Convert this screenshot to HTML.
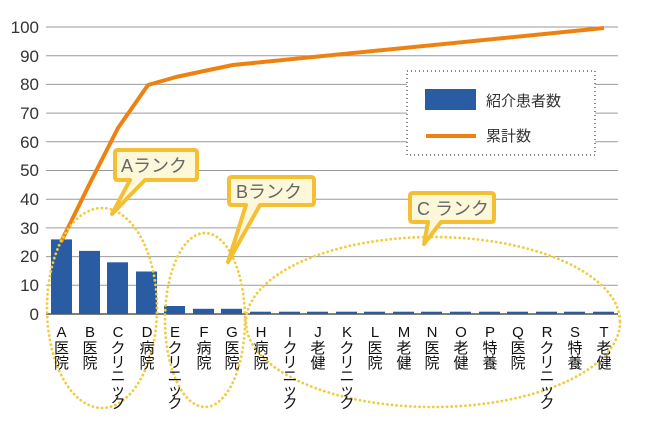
<!DOCTYPE html>
<html><head><meta charset="utf-8"><style>
html,body{margin:0;padding:0;background:#fff;}
svg{display:block;}
text{font-family:"Liberation Sans","Noto Sans CJK JP",sans-serif;}
</style></head><body>
<svg width="652" height="434" viewBox="0 0 652 434" xmlns="http://www.w3.org/2000/svg">
<g stroke="#9a9a9a" stroke-width="1">
<line x1="46" x2="618" y1="27" y2="27"/>
<line x1="46" x2="618" y1="55.7" y2="55.7"/>
<line x1="46" x2="618" y1="84.4" y2="84.4"/>
<line x1="46" x2="618" y1="113.1" y2="113.1"/>
<line x1="46" x2="618" y1="141.8" y2="141.8"/>
<line x1="46" x2="618" y1="170.5" y2="170.5"/>
<line x1="46" x2="618" y1="199.2" y2="199.2"/>
<line x1="46" x2="618" y1="227.9" y2="227.9"/>
<line x1="46" x2="618" y1="256.6" y2="256.6"/>
<line x1="46" x2="618" y1="285.3" y2="285.3"/>
</g>
<line x1="46" x2="618" y1="314" y2="314" stroke="#333" stroke-width="1.2"/>
<g font-size="17" fill="#333" text-anchor="end">
<text x="39" y="33">100</text><text x="39" y="62">90</text><text x="39" y="90">80</text>
<text x="39" y="119">70</text><text x="39" y="148">60</text><text x="39" y="176">50</text>
<text x="39" y="205">40</text><text x="39" y="234">30</text><text x="39" y="262">20</text>
<text x="39" y="291">10</text><text x="39" y="320">0</text>
</g>
<g fill="#2a5ca3">
<rect x="51" y="239.4" width="21" height="74.6"/>
<rect x="79" y="250.9" width="21" height="63.1"/>
<rect x="107" y="262.3" width="21" height="51.7"/>
<rect x="136" y="271.5" width="21" height="42.5"/>
<rect x="164" y="306" width="21" height="8"/>
<rect x="193" y="308.8" width="21" height="5.2"/>
<rect x="221" y="308.8" width="21" height="5.2"/>
<rect x="250" y="311.7" width="21" height="2.3"/>
<rect x="279" y="311.7" width="21" height="2.3"/>
<rect x="307" y="311.7" width="21" height="2.3"/>
<rect x="336" y="311.7" width="21" height="2.3"/>
<rect x="364" y="311.7" width="21" height="2.3"/>
<rect x="393" y="311.7" width="21" height="2.3"/>
<rect x="421" y="311.7" width="21" height="2.3"/>
<rect x="450" y="311.7" width="21" height="2.3"/>
<rect x="479" y="311.7" width="21" height="2.3"/>
<rect x="507" y="311.7" width="21" height="2.3"/>
<rect x="536" y="311.7" width="21" height="2.3"/>
<rect x="564" y="311.7" width="21" height="2.3"/>
<rect x="593" y="311.7" width="21" height="2.3"/>
</g>
<polyline fill="none" stroke="#ee8210" stroke-width="4" stroke-linejoin="round" points="61,242 90,183 118,128 148,85 176,77 204,71 233,65 604,28"/>
<g fill="none" stroke="#f0cc40" stroke-width="2.8" stroke-dasharray="0.1 4.5" stroke-linecap="round">
<ellipse cx="102" cy="308" rx="55" ry="100"/>
<ellipse cx="205" cy="320" rx="40" ry="87"/>
<ellipse cx="433" cy="322" rx="187" ry="85"/>
</g>
<g fill="#fdf8da" stroke="#f5bf34" stroke-width="4" stroke-linejoin="round">
<path d="M118,150 H194 Q197,150 197,153 V177 Q197,180 194,180 H145 L112,214 L130,180 H118 Q115,180 115,177 V153 Q115,150 118,150 Z"/>
<path d="M232,177 H311 Q314,177 314,180 V202 Q314,205 311,205 H260 L228,262 L246,205 H232 Q229,205 229,202 V180 Q229,177 232,177 Z"/>
<path d="M413,193 H491 Q494,193 494,196 V219 Q494,222 491,222 H441 L424,244 L428,222 H413 Q410,222 410,219 V196 Q410,193 413,193 Z"/>
</g>
<g font-size="18" fill="#666">
<text x="121" y="172">Aランク</text>
<text x="236" y="198">Bランク</text>
<text x="417" y="215">C ランク</text>
</g>
<rect x="407" y="71" width="188" height="84" fill="#fff" stroke="#888" stroke-width="2" stroke-dasharray="1 3"/>
<rect x="425" y="89" width="51" height="21" fill="#2a5ca3"/>
<line x1="426" x2="476" y1="136" y2="136" stroke="#ee8210" stroke-width="4"/>
<g font-size="15" fill="#333">
<text x="486" y="106">紹介患者数</text>
<text x="486" y="141">累計数</text>
</g>
<g font-size="15" fill="#111" text-anchor="middle">
<text x="61.5" y="337">A</text><text x="61.5" y="353">医</text><text x="61.5" y="368">院</text>
<text x="90" y="337">B</text><text x="90" y="353">医</text><text x="90" y="368">院</text>
<text x="118" y="337">C</text><text x="118" y="353">ク</text><text x="118" y="367">リ</text><text x="118" y="381">ニ</text><text x="118" y="395">ッ</text><text x="118" y="408">ク</text>
<text x="147" y="337">D</text><text x="147" y="353">病</text><text x="147" y="368">院</text>
<text x="175" y="337">E</text><text x="175" y="353">ク</text><text x="175" y="367">リ</text><text x="175" y="381">ニ</text><text x="175" y="395">ッ</text><text x="175" y="408">ク</text>
<text x="204" y="337">F</text><text x="204" y="353">病</text><text x="204" y="368">院</text>
<text x="232" y="337">G</text><text x="232" y="353">医</text><text x="232" y="368">院</text>
<text x="261" y="337">H</text><text x="261" y="353">病</text><text x="261" y="368">院</text>
<text x="290" y="337">I</text><text x="290" y="353">ク</text><text x="290" y="367">リ</text><text x="290" y="381">ニ</text><text x="290" y="395">ッ</text><text x="290" y="408">ク</text>
<text x="318" y="337">J</text><text x="318" y="353">老</text><text x="318" y="368">健</text>
<text x="347" y="337">K</text><text x="347" y="353">ク</text><text x="347" y="367">リ</text><text x="347" y="381">ニ</text><text x="347" y="395">ッ</text><text x="347" y="408">ク</text>
<text x="375" y="337">L</text><text x="375" y="353">医</text><text x="375" y="368">院</text>
<text x="404" y="337">M</text><text x="404" y="353">老</text><text x="404" y="368">健</text>
<text x="432" y="337">N</text><text x="432" y="353">医</text><text x="432" y="368">院</text>
<text x="461" y="337">O</text><text x="461" y="353">老</text><text x="461" y="368">健</text>
<text x="490" y="337">P</text><text x="490" y="353">特</text><text x="490" y="368">養</text>
<text x="518" y="337">Q</text><text x="518" y="353">医</text><text x="518" y="368">院</text>
<text x="547" y="337">R</text><text x="547" y="353">ク</text><text x="547" y="367">リ</text><text x="547" y="381">ニ</text><text x="547" y="395">ッ</text><text x="547" y="408">ク</text>
<text x="575" y="337">S</text><text x="575" y="353">特</text><text x="575" y="368">養</text>
<text x="604" y="337">T</text><text x="604" y="353">老</text><text x="604" y="368">健</text>
</g>
</svg>
</body></html>
